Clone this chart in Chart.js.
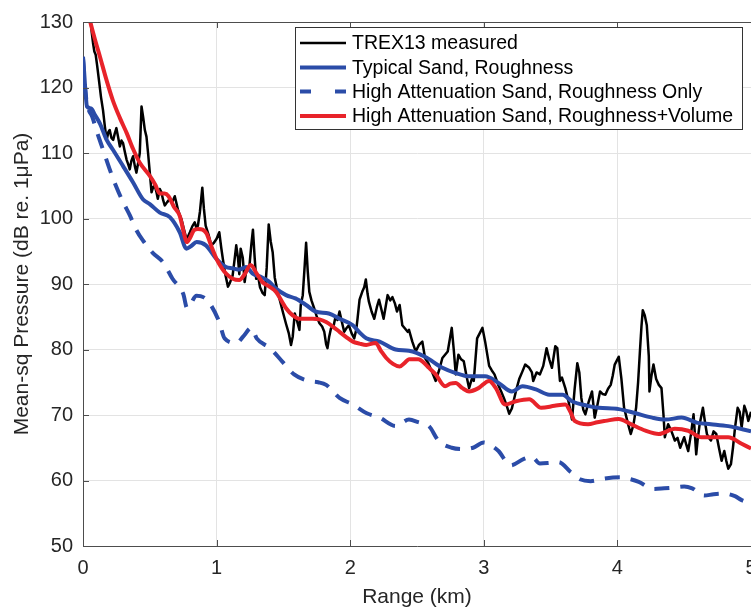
<!DOCTYPE html>
<html>
<head>
<meta charset="utf-8">
<script src="https://cdn.jsdelivr.net/npm/chart.js@4.4.1/dist/chart.umd.min.js"></script>
<style>
  html, body { margin: 0; padding: 0; background: #fff; overflow: hidden; }
  #chart { display: block; }
</style>
</head>
<body>
<canvas id="chart" width="751" height="610"></canvas>
<script>
// Axis ticks
const rangeTicks = [0, 1, 2, 3, 4, 5];
const levelTicks = [50, 60, 70, 80, 90, 100, 110, 120, 130];

// TREX13 measured (km, dB)
const trexRange = [0.045, 0.055, 0.065, 0.075, 0.085, 0.095, 0.105, 0.12, 0.135, 0.15, 0.164, 0.177, 0.19, 0.2, 0.213, 0.226, 0.238, 0.25, 0.263, 0.276, 0.288, 0.3, 0.313, 0.326, 0.338, 0.35, 0.362, 0.375, 0.388, 0.4, 0.413, 0.425, 0.438, 0.45, 0.463, 0.475, 0.487, 0.5, 0.513, 0.525, 0.537, 0.55, 0.56, 0.575, 0.587, 0.6, 0.612, 0.63, 0.65, 0.668, 0.687, 0.7, 0.71, 0.725, 0.737, 0.755, 0.774, 0.787, 0.8, 0.818, 0.836, 0.85, 0.86, 0.875, 0.893, 0.905, 0.918, 0.94, 0.96, 0.98, 1.0, 1.02, 1.035, 1.047, 1.065, 1.085, 1.1, 1.12, 1.135, 1.147, 1.16, 1.17, 1.18, 1.196, 1.21, 1.22, 1.235, 1.246, 1.26, 1.272, 1.285, 1.296, 1.31, 1.325, 1.345, 1.36, 1.375, 1.39, 1.405, 1.42, 1.435, 1.45, 1.47, 1.495, 1.52, 1.54, 1.557, 1.57, 1.585, 1.6, 1.62, 1.63, 1.645, 1.66, 1.67, 1.682, 1.694, 1.71, 1.73, 1.75, 1.77, 1.79, 1.806, 1.82, 1.83, 1.843, 1.856, 1.875, 1.89, 1.905, 1.92, 1.94, 1.955, 1.97, 1.99, 2.01, 2.03, 2.045, 2.055, 2.07, 2.09, 2.105, 2.117, 2.13, 2.14, 2.16, 2.18, 2.2, 2.216, 2.235, 2.25, 2.265, 2.28, 2.3, 2.316, 2.335, 2.35, 2.37, 2.39, 2.41, 2.43, 2.44, 2.465, 2.49, 2.515, 2.54, 2.56, 2.585, 2.61, 2.64, 2.665, 2.69, 2.71, 2.73, 2.76, 2.775, 2.79, 2.81, 2.83, 2.85, 2.87, 2.89, 2.91, 2.925, 2.95, 2.97, 2.99, 3.01, 3.04, 3.06, 3.08, 3.11, 3.13, 3.15, 3.17, 3.19, 3.21, 3.24, 3.265, 3.29, 3.31, 3.34, 3.36, 3.37, 3.395, 3.42, 3.445, 3.47, 3.49, 3.51, 3.535, 3.55, 3.57, 3.585, 3.61, 3.635, 3.66, 3.68, 3.7, 3.715, 3.73, 3.745, 3.76, 3.785, 3.81, 3.83, 3.85, 3.87, 3.89, 3.91, 3.93, 3.95, 3.965, 3.98, 4.0, 4.01, 4.03, 4.05, 4.08, 4.1, 4.12, 4.14, 4.155, 4.17, 4.18, 4.19, 4.205, 4.22, 4.235, 4.24, 4.255, 4.27, 4.29, 4.31, 4.33, 4.345, 4.355, 4.38, 4.405, 4.43, 4.45, 4.47, 4.5, 4.515, 4.53, 4.55, 4.57, 4.59, 4.6, 4.615, 4.64, 4.655, 4.67, 4.685, 4.7, 4.72, 4.74, 4.76, 4.78, 4.8, 4.815, 4.83, 4.85, 4.865, 4.88, 4.9, 4.915, 4.93, 4.95, 4.965, 4.98, 5.0];
const trexLevel = [133, 130.5, 128.5, 126.8, 125.5, 125.0, 123.5, 121, 118.5, 116.5, 114, 112, 113.2, 113.5, 112.3, 112, 113, 113.8, 112.4, 111, 111.9, 111.5, 110.2, 109, 108.3, 107.5, 108.8, 109.5, 108.0, 107, 108.5, 110, 117.1, 115.5, 113.5, 112.5, 110, 107, 104, 104.8, 105, 104, 103, 104.5, 104, 102.8, 102, 102.5, 103, 102.5, 103.4, 102.3, 101.4, 100.5, 99.9, 98.4, 96.9, 97.3, 97.9, 98.8, 99.4, 98.5, 98.9, 101, 104.7, 101.5, 98.9, 97.5, 95.9, 96.3, 96.9, 97.9, 95.5, 93.8, 91.5, 89.6, 90.2, 91.3, 93.8, 95.9, 94, 91.5, 95.4, 94, 90.3, 91.8, 92.2, 92.8, 96, 98.3, 94, 90.8, 91.3, 89.5, 88.6, 88.3, 92.5, 99.1, 96.5, 94.8, 91, 89.5, 87.8, 85.8, 83.9, 82.5, 80.7, 82, 85.5, 84.5, 83, 86.8, 88.3, 93, 96.3, 92, 88.8, 87.5, 86.3, 85, 84, 83.5, 82.7, 80.8, 80.2, 82, 83.2, 83.5, 85, 84.5, 85.8, 84, 82.7, 83.2, 83.7, 82.5, 81.7, 83, 84.7, 87.6, 88.8, 89.5, 90.7, 88.5, 87.3, 85.8, 84.7, 86.5, 87.6, 86, 84.7, 86.5, 88.3, 87.5, 88, 87, 85.8, 86.8, 83.7, 83.2, 82.7, 83.0, 81.2, 79.7, 80.7, 81.2, 78.7, 77.9, 76.7, 75.2, 76.8, 78.7, 79.2, 79.7, 83.3, 80, 76.2, 79.2, 78.5, 78.2, 76, 74.1, 75.5, 75.2, 81.7, 82.5, 83.3, 81.2, 77.5, 76.8, 76.2, 74.5, 73.6, 72.6, 71.5, 70.2, 71, 73.6, 75.5, 76.7, 77.7, 77.2, 76.5, 75.2, 76.5, 76.2, 77.5, 80.2, 78.5, 77.2, 80.5, 80.2, 75.2, 75.7, 74.1, 72, 69.3, 74, 77.9, 76.5, 72.6, 70.8, 70.1, 72, 73.6, 69.6, 71.5, 73.6, 73.2, 73.1, 74, 74.6, 76, 77.7, 78.5, 78.9, 75.5, 71.1, 68.6, 67.1, 68.5, 71.1, 75, 80.2, 83.5, 86.0, 85.2, 83.7, 79, 73.6, 76, 77.7, 75.5, 74.6, 74.1, 70, 66.6, 68.6, 67.5, 66.1, 66.5, 65.0, 66.6, 65.5, 64.5, 67, 70.1, 64.0, 66.1, 68.5, 71.1, 69, 67.1, 66.5, 66.1, 67.5, 67.1, 65, 63.0, 64.5, 63, 61.8, 62.5, 65.0, 68, 71.1, 70.5, 68.1, 71.4, 70.5, 69.1, 70.5];

// Typical Sand, Roughness
const typRange = [0.0, 0.008, 0.018, 0.03, 0.06, 0.09, 0.127, 0.177, 0.224, 0.3, 0.375, 0.45, 0.5, 0.575, 0.65, 0.724, 0.774, 0.81, 0.85, 0.92, 1.0, 1.07, 1.12, 1.17, 1.22, 1.27, 1.34, 1.39, 1.445, 1.52, 1.59, 1.67, 1.74, 1.84, 1.92, 2.02, 2.07, 2.12, 2.22, 2.34, 2.44, 2.56, 2.69, 2.79, 2.89, 3.01, 3.11, 3.21, 3.29, 3.39, 3.49, 3.59, 3.66, 3.78, 3.86, 4.01, 4.13, 4.26, 4.36, 4.48, 4.6, 4.7, 4.83, 5.0];
const typLevel = [124.7, 122.5, 119.5, 117.1, 116.8, 115.8, 114.5, 112, 110.5, 108, 105.5, 102.9, 102.2, 100.9, 100.2, 97.9, 95.4, 95.8, 96.4, 95.9, 93.8, 92.6, 92.4, 92.2, 92.6, 91.6, 91.0, 90.4, 89.3, 88.3, 87.8, 86.8, 85.8, 85.5, 84.7, 83.7, 82.6, 81.7, 81.2, 80, 79.8, 78.9, 77.2, 76.4, 75.9, 75.9, 74.9, 73.6, 74.4, 73.9, 73.1, 73.1, 72.1, 71.4, 71.1, 70.9, 70.3, 69.6, 69.3, 69.6, 68.8, 68.6, 68.3, 67.5];

// High Attenuation Sand, Roughness Only
const hiRange = [0.0, 0.02, 0.04, 0.07, 0.1, 0.15, 0.2, 0.25, 0.3, 0.35, 0.4, 0.45, 0.52, 0.6, 0.67, 0.75, 0.78, 0.85, 0.9, 0.95, 1.02, 1.06, 1.15, 1.2, 1.26, 1.3, 1.4, 1.49, 1.58, 1.69, 1.76, 1.82, 1.92, 2.02, 2.12, 2.22, 2.34, 2.44, 2.51, 2.59, 2.66, 2.76, 2.85, 2.92, 3.0, 3.05, 3.11, 3.2, 3.3, 3.36, 3.42, 3.5, 3.56, 3.65, 3.72, 3.8, 3.9, 4.02, 4.1, 4.16, 4.27, 4.35, 4.41, 4.5, 4.56, 4.65, 4.72, 4.8, 4.88, 4.93, 5.0];
const hiLevel = [124.5, 119, 116.8, 115.5, 113.5, 110.5, 107.5, 104.8, 102.5, 100.5, 98.2, 96.6, 94.8, 93.3, 90.8, 88.5, 86.3, 88.2, 88.0, 87, 84.2, 81.7, 81.0, 82, 83.3, 81.7, 80.2, 78.2, 76.2, 75.2, 75.0, 74.6, 72.6, 71.6, 70.3, 69.6, 68.3, 69.3, 68.9, 68.3, 66.1, 65.0, 64.8, 65.0, 65.8, 65.4, 64.5, 62.3, 63.3, 63.6, 62.6, 62.7, 62.8, 61.3, 60.2, 59.9, 60.3, 60.5, 60.2, 59.8, 58.7, 58.8, 58.9, 59.1, 58.8, 57.7, 57.9, 58.0, 57.6, 57.0, 56.5];

// High Attenuation Sand, Roughness+Volume
const hvRange = [0.0, 0.025, 0.052, 0.09, 0.127, 0.175, 0.224, 0.275, 0.328, 0.375, 0.425, 0.5, 0.54, 0.575, 0.61, 0.64, 0.68, 0.724, 0.755, 0.776, 0.8, 0.83, 0.86, 0.895, 0.925, 0.96, 1.0, 1.04, 1.075, 1.12, 1.17, 1.21, 1.255, 1.3, 1.343, 1.395, 1.445, 1.49, 1.52, 1.57, 1.62, 1.67, 1.72, 1.77, 1.82, 1.87, 1.92, 1.97, 2.02, 2.07, 2.12, 2.19, 2.23, 2.27, 2.32, 2.37, 2.41, 2.44, 2.51, 2.54, 2.59, 2.64, 2.71, 2.75, 2.79, 2.84, 2.89, 2.96, 3.04, 3.09, 3.16, 3.24, 3.34, 3.43, 3.53, 3.61, 3.65, 3.68, 3.78, 3.85, 3.91, 4.01, 4.1, 4.21, 4.31, 4.43, 4.53, 4.63, 4.73, 4.83, 4.93, 5.0];
const hvLevel = [134.5, 132.5, 130.2, 127.3, 124.7, 121.2, 118, 115.4, 113, 110.6, 108.5, 106.5, 105.2, 103.8, 103.8, 103.4, 101.8, 100.4, 97.8, 96.4, 97.0, 98.2, 98.4, 98.3, 97.7, 95.8, 93.8, 92.4, 91.5, 90.8, 90.6, 91.5, 92.9, 91.6, 90.3, 89.6, 88.8, 87.3, 86.3, 85.2, 84.7, 84.7, 84.7, 84.6, 84.2, 83.5, 82.7, 81.9, 81.2, 80.9, 80.7, 81, 79.8, 78.7, 77.8, 77.4, 78.0, 78.5, 78.5, 78.2, 77.2, 76.2, 74.4, 74.8, 74.9, 74.1, 73.6, 74.1, 75.2, 74.1, 71.6, 72.1, 72.4, 71.1, 71.4, 71.6, 70.4, 69.1, 68.6, 68.9, 69.1, 69.4, 68.6, 67.6, 67.1, 67.9, 67.6, 66.6, 66.6, 66.6, 65.6, 64.9];

const seriesLabels = ['TREX13 measured', 'Typical Sand, Roughness', 'High Attenuation Sand, Roughness Only', 'High Attenuation Sand, Roughness+Volume'];

const BLUE = '#2b4ca8';
const RED = '#e8232a';
const FONT = '"Liberation Sans", Arial, Helvetica, sans-serif';

function toPoints(xs, ys) {
    return xs.map((x, i) => ({ x: x, y: ys[i] }));
}

// MATLAB style box, inward ticks and legend
const matlabDecor = {
    id: 'matlabDecor',
    afterDatasetsDraw(chart) {
        const ctx = chart.ctx;
        const a = chart.chartArea;
        const xs = chart.scales.x;
        const ys = chart.scales.y;
        ctx.save();
        ctx.strokeStyle = '#4d4d4d';
        ctx.lineWidth = 1;
        ctx.beginPath();
        ctx.moveTo(a.left, a.top + 0.5);
        ctx.lineTo(a.right, a.top + 0.5);
        rangeTicks.forEach(v => {
            const px = Math.round(xs.getPixelForValue(v)) + 0.5;
            ctx.moveTo(px, a.bottom); ctx.lineTo(px, a.bottom - 6);
            ctx.moveTo(px, a.top); ctx.lineTo(px, a.top + 6);
        });
        levelTicks.forEach(v => {
            const py = Math.round(ys.getPixelForValue(v)) + 0.5;
            ctx.moveTo(a.left, py); ctx.lineTo(a.left + 6, py);
        });
        ctx.stroke();

        // legend
        const bx = 295.5, by = 27.5, bw = 447, bh = 102;
        ctx.fillStyle = '#fff';
        ctx.fillRect(bx, by, bw, bh);
        ctx.strokeStyle = '#333';
        ctx.strokeRect(bx, by, bw, bh);
        const rows = [43, 67.5, 91.5, 116];
        ctx.font = '19.5px ' + FONT;
        ctx.textBaseline = 'middle';
        ctx.textAlign = 'left';
        chart.data.datasets.forEach(ds => {
            const y = rows[ds.legendRow];
            ctx.beginPath();
            ctx.strokeStyle = ds.borderColor;
            ctx.lineWidth = ds.legendRow === 0 ? 2.5 : 4;
            ctx.setLineDash(ds.borderDash && ds.borderDash.length ? [11, 24] : []);
            ctx.moveTo(300, y);
            ctx.lineTo(346, y);
            ctx.stroke();
            ctx.setLineDash([]);
            ctx.fillStyle = '#000';
            ctx.fillText(ds.label, 352, y + 1);
        });
        ctx.restore();
    }
};

const ctx = document.getElementById('chart').getContext('2d');
new Chart(ctx, {
    type: 'line',
    data: {
        datasets: [
            {
                label: seriesLabels[3], legendRow: 3, order: 0,
                data: toPoints(hvRange, hvLevel),
                borderColor: RED, borderWidth: 4, pointRadius: 0,
                cubicInterpolationMode: 'monotone'
            },
            {
                label: seriesLabels[2], legendRow: 2, order: 1,
                data: toPoints(hiRange, hiLevel),
                borderColor: BLUE, borderWidth: 4, pointRadius: 0,
                borderDash: [15, 11], cubicInterpolationMode: 'monotone'
            },
            {
                label: seriesLabels[1], legendRow: 1, order: 2,
                data: toPoints(typRange, typLevel),
                borderColor: BLUE, borderWidth: 4, pointRadius: 0,
                cubicInterpolationMode: 'monotone'
            },
            {
                label: seriesLabels[0], legendRow: 0, order: 3,
                data: toPoints(trexRange, trexLevel),
                borderColor: '#000', borderWidth: 2.5, pointRadius: 0,
                tension: 0, borderJoinStyle: 'round'
            }
        ]
    },
    options: {
        responsive: false,
        animation: false,
        // the plot box runs a few pixels past the right edge of the picture
        layout: { padding: { top: 18, right: -3, left: 0, bottom: 0 } },
        plugins: {
            legend: { display: false },
            tooltip: { enabled: false }
        },
        scales: {
            x: {
                type: 'linear',
                min: 0, max: 5,
                afterFit(scale) { scale.height = 64; scale.paddingRight = 0; },
                afterBuildTicks(scale) { scale.ticks = rangeTicks.map(v => ({ value: v })); },
                ticks: { color: '#262626', padding: 10, font: { size: 20, family: FONT } },
                grid: { color: '#e3e3e3', drawTicks: false },
                border: { color: '#4d4d4d', width: 1 },
                title: {
                    display: true, text: 'Range (km)', color: '#262626',
                    font: { size: 21, family: FONT }, padding: { top: 0, bottom: 0 }
                }
            },
            y: {
                min: 50, max: 130,
                afterFit(scale) { scale.width = 83; },
                afterBuildTicks(scale) { scale.ticks = levelTicks.map(v => ({ value: v })); },
                ticks: { color: '#262626', padding: 10, font: { size: 20, family: FONT } },
                grid: { color: '#e3e3e3', drawTicks: false },
                border: { color: '#4d4d4d', width: 1 },
                title: {
                    display: true, text: 'Mean-sq Pressure (dB re. 1\u03BCPa)', color: '#262626',
                    font: { size: 21, family: FONT }, padding: { top: 10, bottom: 0 }
                }
            }
        }
    },
    plugins: [matlabDecor]
});
</script>
</body>
</html>
